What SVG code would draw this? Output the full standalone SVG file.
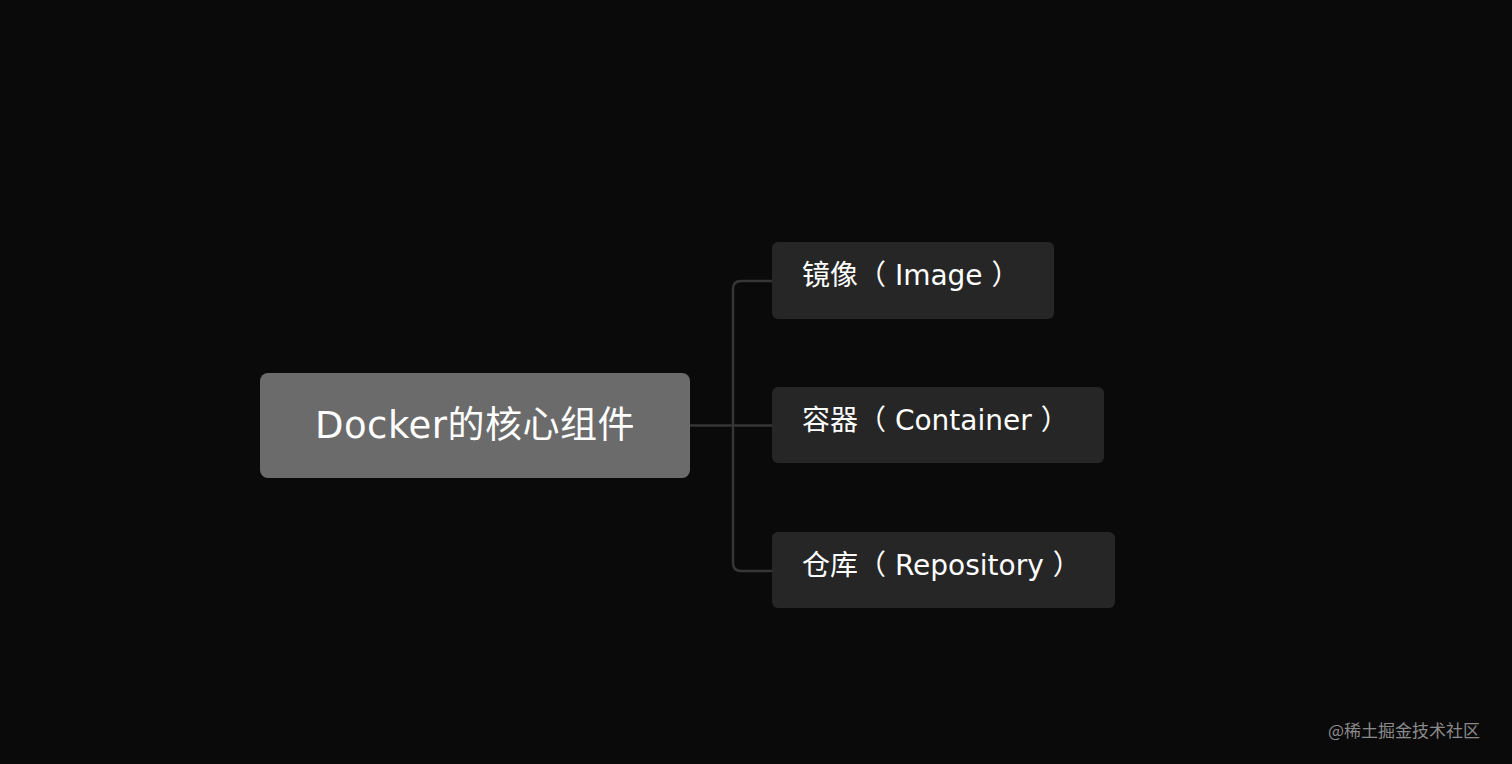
<svg xmlns="http://www.w3.org/2000/svg" width="1512" height="764" viewBox="0 0 1512 764">
<style>
.bg{fill:#0a0a0a}
.root{fill:#6b6b6b}
.child{fill:#262626}
.t{font-family:"DejaVu Sans","Noto Sans CJK SC",sans-serif;fill:#ffffff}
.conn{fill:none;stroke:#363636;stroke-width:2.5}
.wm{font-family:"Noto Sans CJK SC",sans-serif;fill:#8a8a8a;font-size:17px}
</style>
<rect class="bg" x="0" y="0" width="1512" height="764"/>
<g id="connectors">
<path class="conn" d="M690 425.5 H772"/>
<path class="conn" d="M772 281 H741 Q733 281 733 289 V563 Q733 571 741 571 H772"/>
</g>
<g id="node-root">
<rect class="root" x="260" y="373" width="430" height="105" rx="8"/>
<text class="t" x="475" y="438" font-size="37" letter-spacing="0.5" text-anchor="middle">Docker的核心组件</text>
</g>
<g id="node-image">
<rect class="child" x="772" y="242" width="282" height="77" rx="6"/>
<text class="t" x="802" y="285" font-size="28">镜像（ Image ）</text>
</g>
<g id="node-container">
<rect class="child" x="772" y="387" width="332" height="76" rx="6"/>
<text class="t" x="802" y="430" font-size="28">容器（ Container ）</text>
</g>
<g id="node-repository">
<rect class="child" x="772" y="532" width="343" height="76" rx="6"/>
<text class="t" x="802" y="575" font-size="28">仓库（ Repository ）</text>
</g>
<text class="wm" x="1328" y="737">@稀土掘金技术社区</text>
</svg>
